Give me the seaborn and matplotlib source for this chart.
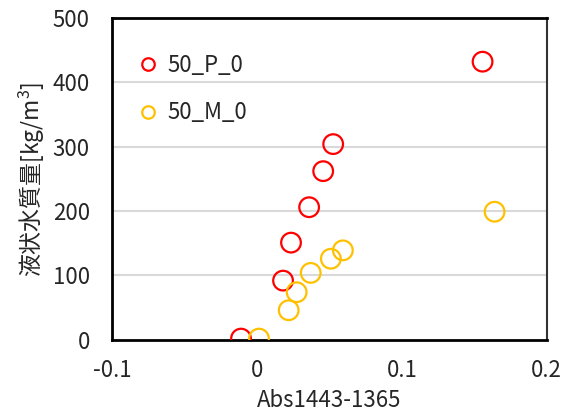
import matplotlib
matplotlib.use("Agg")
import matplotlib.pyplot as plt
import seaborn as sns
import pandas as pd

# Series 50_P_0
p_abs = [-0.011, 0.018, 0.0235, 0.036, 0.0457, 0.0526, 0.1557]
p_mass = [2, 92, 151, 206, 262, 304, 432]
# Series 50_M_0
m_abs = [0.0014, 0.0219, 0.0274, 0.0371, 0.051, 0.0593, 0.164]
m_mass = [2, 46, 74, 104, 126, 139, 199]

series_names = ["50_P_0", "50_M_0"]
series_colors = ["#FF0000", "#FFC000"]
x_ticks = [-0.1, 0, 0.1, 0.2]
x_tick_labels = ["-0.1", "0", "0.1", "0.2"]
y_ticks = [0, 100, 200, 300, 400, 500]

frames = [
    pd.DataFrame({"x": p_abs, "y": p_mass}),
    pd.DataFrame({"x": m_abs, "y": m_mass}),
]

sns.set_theme(style="white")
plt.rcParams["font.family"] = ["Noto Sans CJK JP", "DejaVu Sans"]
plt.rcParams["mathtext.fontset"] = "custom"
plt.rcParams["mathtext.rm"] = "Noto Sans CJK JP"

fig = plt.figure(figsize=(5.66, 4.16), dpi=100)
ax = fig.add_axes([0.198, 0.183, 0.768, 0.774])

for y in y_ticks[1:]:
    ax.axhline(y, color="#D9D9D9", lw=1.5, zorder=0)

# hollow circle markers, one call per series
for data, col in zip(frames, series_colors):
    sns.scatterplot(data=data, x="x", y="y", marker="o", s=200,
                    facecolors="none", edgecolor=col, linewidth=1.6,
                    ax=ax, legend=False, zorder=3)

ax.set_xlim(-0.1, 0.2)
ax.set_ylim(0, 500)
ax.set_xticks(x_ticks)
ax.set_xticklabels(x_tick_labels)
ax.set_yticks(y_ticks)
ax.tick_params(axis="both", direction="in", length=5, width=1.2,
               labelsize=16, colors="black", labelcolor="#262626")
ax.tick_params(axis="x", pad=14)
ax.tick_params(axis="y", pad=16)

for side in ["left", "bottom", "top"]:
    ax.spines[side].set_color("black")
    ax.spines[side].set_linewidth(2)
ax.spines["right"].set_color("#333333")
ax.spines["right"].set_linewidth(1.5)

ax.set_xlabel("Abs1443-1365", fontsize=16, color="#262626", labelpad=5)
ax.set_ylabel("液状水質量[kg/m$^3$]", fontsize=16.5, color="#262626", labelpad=4)

handles = [plt.Line2D([], [], marker="o", ls="none", markersize=9,
                      markerfacecolor="none", markeredgecolor=c, markeredgewidth=1.6)
           for c in series_colors]
ax.legend(handles, series_names, loc="upper left", bbox_to_anchor=(-0.015, 0.95),
          frameon=False, fontsize=16, handletextpad=-0.1, labelspacing=1.1,
          labelcolor="#262626")

fig.savefig("out.png", dpi=100)
